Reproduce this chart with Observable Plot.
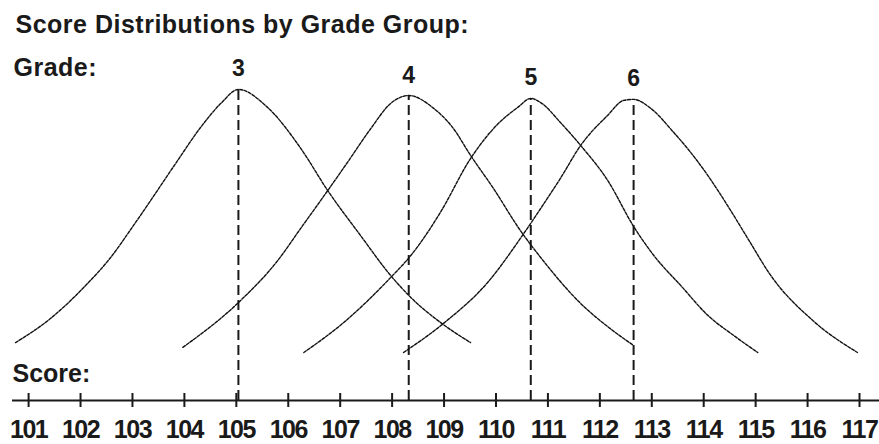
<!DOCTYPE html>
<html><head><meta charset="utf-8">
<script src="https://cdn.jsdelivr.net/npm/d3@7"></script>
<script src="https://cdn.jsdelivr.net/npm/@observablehq/plot@0.6"></script>
<style>
html,body{margin:0;padding:0;background:#fff;}
#chart svg{display:block;}
</style></head><body><div id="chart"></div>
<script>
// ---- data ----
const titleText = "Score Distributions by Grade Group:";
const gradeAxisLabel = "Grade:";
const scoreAxisLabel = "Score:";

const grades = [3, 4, 5, 6];
const gradeMeans = [105.04, 108.32, 110.67, 112.65];
const gradePeaks = [97.2, 95.3, 94.4, 94.1];

const scoreTicks = [101, 102, 103, 104, 105, 106, 107, 108, 109, 110, 111, 112, 113, 114, 115, 116, 117];

// points along each curve (score, relative height)
const grade3Scores  = [100.75, 101.42, 102.06, 102.58, 103.02, 103.48, 103.87, 104.31, 104.70, 105.04, 105.60, 106.24, 106.76, 107.39, 107.97, 108.36, 108.93, 109.51];
const grade3Heights = [18.1, 25.6, 35.3, 44.7, 54.7, 65.6, 75.0, 85.3, 92.8, 97.2, 91.6, 78.8, 65.6, 51.6, 39.1, 32.2, 24.4, 18.1];

const grade4Scores  = [103.97, 105.04, 105.80, 106.24, 106.76, 107.14, 107.59, 107.97, 108.32, 108.80, 109.18, 109.51, 109.95, 110.47, 110.86, 111.69, 112.15, 112.65];
const grade4Heights = [16.6, 30.6, 43.8, 53.8, 65.6, 74.4, 85.0, 92.8, 95.3, 91.3, 85.0, 76.6, 66.3, 53.1, 44.7, 29.4, 23.1, 17.2];

const grade5Scores  = [106.30, 107.07, 107.97, 108.36, 108.93, 109.51, 110.03, 110.42, 110.67, 110.86, 111.24, 111.63, 112.15, 112.65, 113.04, 113.56, 114.08, 114.58, 115.04];
const grade5Heights = [15.0, 24.4, 38.4, 45.3, 58.8, 75.6, 86.3, 91.6, 94.4, 93.1, 86.9, 79.7, 68.8, 54.4, 45.3, 35.9, 26.6, 20.3, 15.0];

const grade6Scores  = [108.22, 108.99, 109.84, 110.51, 110.86, 111.24, 111.63, 112.15, 112.46, 112.65, 112.98, 113.42, 113.75, 114.08, 114.46, 114.85, 115.29, 116.10, 116.96];
const grade6Heights = [15.0, 24.1, 36.9, 51.6, 60.0, 69.4, 79.7, 89.1, 93.8, 94.1, 91.3, 83.8, 77.5, 70.3, 60.9, 50.6, 39.1, 25.0, 15.0];

// ---- tables built from the arrays ----
const curveScores = [grade3Scores, grade4Scores, grade5Scores, grade6Scores];
const curveHeights = [grade3Heights, grade4Heights, grade5Heights, grade6Heights];
const curveRows = grades.flatMap((g, i) => curveScores[i].map((s, j) => ({grade: g, score: s, height: curveHeights[i][j]})));
const gradeRows = grades.map((g, i) => ({grade: g, mean: gradeMeans[i], peak: gradePeaks[i]}));

const ink = "#1a1a1a";
const svg = Plot.plot({
  width: 879, height: 444,
  marginLeft: 12, marginRight: 0, marginTop: 0, marginBottom: 44,
  x: {domain: [100.69, 117.385], label: null},
  y: {domain: [0, 125], axis: null, label: null},
  style: {fontFamily: "'Liberation Sans', Arial, sans-serif", color: ink, background: "#fff"},
  marks: [
    Plot.ruleY([0], {stroke: ink, strokeWidth: 2}),
    Plot.ruleX(scoreTicks, {x: d => d, y1: 0, y2: 0, insetTop: -7, insetBottom: -7, stroke: ink, strokeWidth: 2}),
    Plot.axisX(scoreTicks, {tickSize: 0, tickPadding: 20, tickFormat: d => String(d), fontSize: 25, fontWeight: "bold", label: null}),
    Plot.ruleX(gradeRows, {x: "mean", y1: 0, y2: "peak", stroke: ink, strokeWidth: 2, strokeDasharray: "10,5"}),
    Plot.line(curveRows, {x: "score", y: "height", z: "grade", curve: "monotone-x", stroke: "#111", strokeWidth: 1.4, strokeDasharray: "3,1.5"}),
    Plot.text(gradeRows, {x: "mean", y: "peak", text: d => String(d.grade), dy: -13, lineAnchor: "bottom", fontSize: 23, fontWeight: "bold", fill: ink}),
    Plot.text([titleText], {frameAnchor: "top-left", dx: 3, dy: 15, lineAnchor: "top", textAnchor: "start", fontSize: 25, fontWeight: "bold", fill: ink}),
    Plot.text([gradeAxisLabel], {frameAnchor: "top-left", dx: 1, dy: 58, lineAnchor: "top", textAnchor: "start", fontSize: 25, fontWeight: "bold", fill: ink}),
    Plot.text([scoreAxisLabel], {frameAnchor: "top-left", dx: 0, dy: 364, lineAnchor: "top", textAnchor: "start", fontSize: 25, fontWeight: "bold", fill: ink})
  ]
});
d3.select(svg).selectAll("text").each(function () {
  const t = this.textContent;
  if (t === titleText || t === gradeAxisLabel) this.setAttribute("letter-spacing", "0.5");
  if (/^\d{3}$/.test(t)) this.setAttribute("letter-spacing", "-1.5");
});
document.getElementById("chart").appendChild(svg);
</script></body></html>
